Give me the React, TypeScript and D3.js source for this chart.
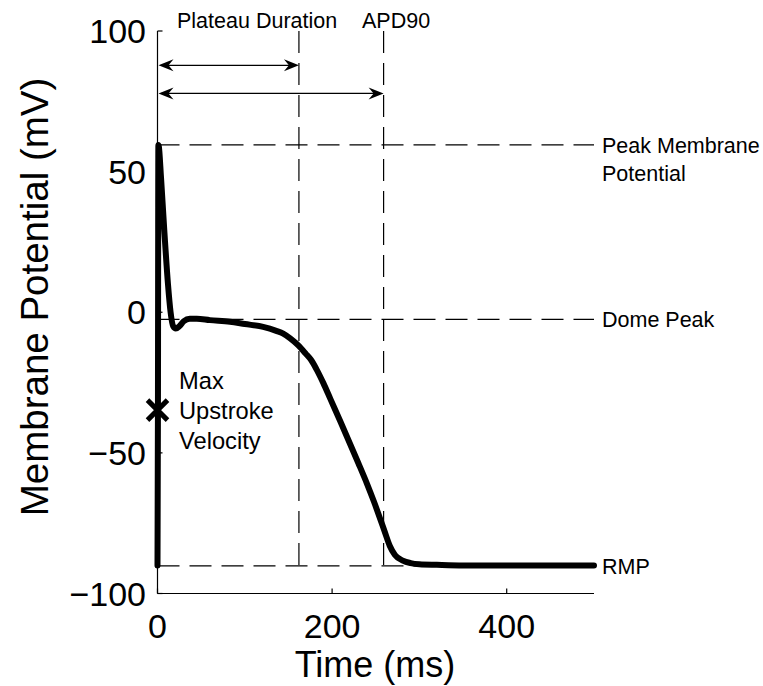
import React from "react";
import * as d3 from "d3";

// Action potential trace (time in ms, membrane potential in mV)
const apTime = [0, 0.5, 1, 1.5, 4, 8, 12, 15, 18, 21, 25, 30, 37, 45, 60, 83, 100, 121, 136, 144, 152, 161, 170, 176, 182, 190, 198, 210, 220, 230, 240, 248, 255, 260, 266, 272, 281, 290, 300, 320, 350, 400, 450, 500];
const apVoltage = [-90, -34.8, 59.5, 59, 48, 28, 10, 0, -5, -5.8, -5, -3.2, -2.3, -2.3, -2.8, -3.4, -4.2, -5.2, -6.6, -7.6, -9.3, -11.7, -14.8, -17, -20.2, -25.2, -30.8, -39.2, -46.4, -53.6, -61, -67.4, -73.4, -77.8, -83, -86.3, -88.3, -89.2, -89.6, -89.8, -90, -90, -90, -90];

// Reference levels (mV) and their labels
const levelValues = [59.5, -2.5, -90.2];
const levelLabels = [["Peak Membrane", "Potential"], ["Dome Peak"], ["RMP"]];

// Durations (ms) marked by vertical lines and arrows
const durationValues = [162, 259];
const durationLabels = ["Plateau Duration", "APD90"];
const arrowLevels = [87.8, 77.8]; // mV at which each arrow is drawn

// Max upstroke velocity point
const maxUpstroke = { t: 0, v: -34.8 };
const maxUpstrokeLabel = ["Max", "Upstroke", "Velocity"];

const xTicks = [0, 200, 400];
const yTicks = [-100, -50, 0, 50, 100];

const FONT = "'Liberation Sans', Arial, Helvetica, sans-serif";

function arrowHead(tipX: number, tipY: number, dir: number) {
  const L = 15;
  const W = 6;
  const n = 10;
  return `M${tipX},${tipY} L${tipX - dir * L},${tipY - W} L${tipX - dir * n},${tipY} L${tipX - dir * L},${tipY + W} Z`;
}

export default function App() {
  const x = d3.scaleLinear().domain([0, 500]).range([157.5, 594]);
  const y = d3.scaleLinear().domain([-100, 100]).range([593.5, 31]);

  const pts = apTime.map((t, i) => [t, apVoltage[i]] as [number, number]);
  const line = d3
    .line<[number, number]>()
    .x((d) => x(d[0]))
    .y((d) => y(d[1]))
    .curve(d3.curveMonotoneX);

  const dash = "22 10";
  const tickLen = 5;

  const mx = x(maxUpstroke.t);
  const my = y(maxUpstroke.v);
  const ms = 10;

  return (
    <svg
      width={763}
      height={686}
      style={{ position: "absolute", left: 0, top: 0, background: "#fff" }}
      fontFamily={FONT}
    >
      <rect width={763} height={686} fill="#fff" />

      {/* horizontal reference levels */}
      {levelValues.map((v, i) => (
        <line
          key={"h" + i}
          x1={x(0)}
          x2={x(500)}
          y1={y(v)}
          y2={y(v)}
          stroke="#000"
          strokeWidth={1.2}
          strokeDasharray={dash}
        />
      ))}

      {/* vertical duration markers */}
      {durationValues.map((t, i) => (
        <line
          key={"v" + i}
          x1={x(t)}
          x2={x(t)}
          y1={y(100)}
          y2={y(levelValues[2])}
          stroke="#000"
          strokeWidth={1.2}
          strokeDasharray={dash}
        />
      ))}

      {/* duration arrows */}
      {durationValues.map((t, i) => {
        const ay = y(arrowLevels[i]);
        return (
          <g key={"a" + i}>
            <line x1={x(0) + 4} x2={x(t) - 4} y1={ay} y2={ay} stroke="#000" strokeWidth={1.2} />
            <path d={arrowHead(x(0) + 1, ay, -1)} fill="#000" />
            <path d={arrowHead(x(t), ay, 1)} fill="#000" />
          </g>
        );
      })}

      {/* axes */}
      <line x1={x(0)} x2={x(0)} y1={y(100)} y2={y(-100)} stroke="#000" strokeWidth={1.2} />
      <line x1={x(0)} x2={x(500)} y1={y(-100)} y2={y(-100)} stroke="#000" strokeWidth={1.2} />
      {yTicks.map((v) => (
        <g key={"yt" + v}>
          <line x1={x(0)} x2={x(0) + tickLen} y1={y(v)} y2={y(v)} stroke="#000" strokeWidth={1.2} />
          <text x={146} y={y(v)} dy="0.36em" textAnchor="end" fontSize={34}>
            {v < 0 ? "\u2212" + Math.abs(v) : String(v)}
          </text>
        </g>
      ))}
      {xTicks.map((t) => (
        <g key={"xt" + t}>
          <line x1={x(t)} x2={x(t)} y1={y(-100)} y2={y(-100) - tickLen} stroke="#000" strokeWidth={1.2} />
          <text x={x(t)} y={637.5} textAnchor="middle" fontSize={34}>
            {t}
          </text>
        </g>
      ))}
      <text x={375} y={677} textAnchor="middle" fontSize={36}>
        Time (ms)
      </text>
      <text
        transform={`translate(48,297) rotate(-90)`}
        textAnchor="middle"
        fontSize={38.5}
      >
        Membrane Potential (mV)
      </text>

      {/* action potential trace */}
      <path d={line(pts) || ""} fill="none" stroke="#000" strokeWidth={6} strokeLinejoin="round" strokeLinecap="round" />

      {/* max upstroke velocity marker */}
      <path
        d={`M${mx - ms},${my - ms}L${mx + ms},${my + ms}M${mx - ms},${my + ms}L${mx + ms},${my - ms}`}
        stroke="#000"
        strokeWidth={5}
      />
      <text fontSize={23.7}>
        {maxUpstrokeLabel.map((s, i) => (
          <tspan key={s} x={179} y={389.3 + i * 30}>
            {s}
          </tspan>
        ))}
      </text>

      {/* level labels */}
      {levelValues.map((v, i) => (
        <text key={"ll" + i} fontSize={21.5}>
          {levelLabels[i].map((s, j) => (
            <tspan key={s} x={602} y={y(v) + 8 + j * 28.5}>
              {s}
            </tspan>
          ))}
        </text>
      ))}

      {/* duration labels */}
      <text x={177} y={28.3} fontSize={21.5}>
        {durationLabels[0]}
      </text>
      <text x={362} y={28.3} fontSize={21.5}>
        {durationLabels[1]}
      </text>
    </svg>
  );
}
